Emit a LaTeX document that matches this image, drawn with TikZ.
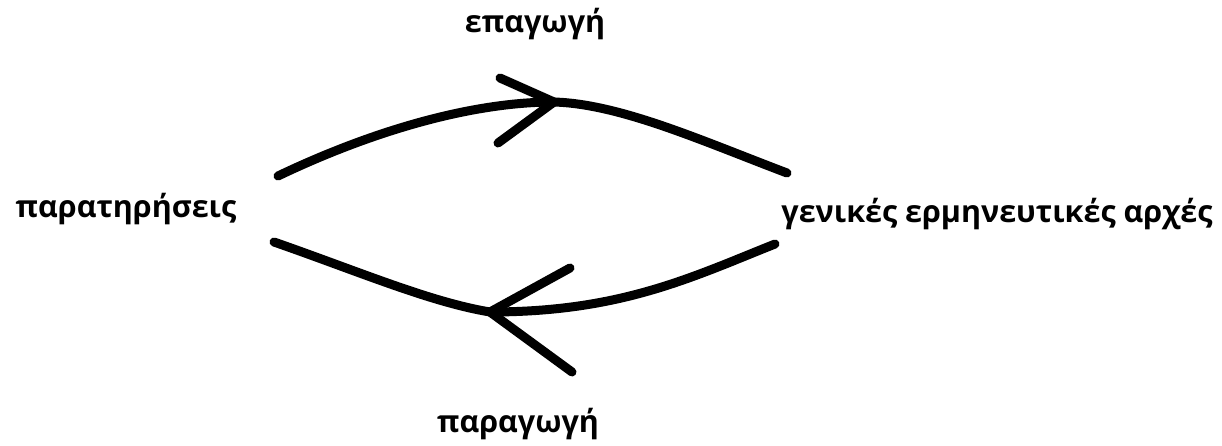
\documentclass[tikz,border=0pt]{standalone}
\usepackage{fontspec}
\setmainfont{Open Sans}
\begin{document}
\begin{tikzpicture}[x=1pt,y=-1pt,
  lbl/.style={font=\bfseries\fontsize{30.5}{34}\selectfont, inner sep=0pt, anchor=base},
  stroke/.style={line width=9pt, line cap=round, line join=round}]
\useasboundingbox (0,0) rectangle (1222,446);

% labels
\node[lbl] (ind) at (535,33) {επαγωγή};
\node[lbl] (obs) at (126,218) {παρατηρήσεις};
\node[lbl] (gen) at (997,223) {γενικές ερμηνευτικές αρχές};
\node[lbl] (ded) at (518,432) {παραγωγή};

% ends and turning points of the two strokes
\coordinate (a1) at (278,176);
\coordinate (t1) at (554,102);
\coordinate (b1) at (787,173);
\coordinate (u1) at (500,78);
\coordinate (l1) at (498,143);

\coordinate (a2) at (775,244);
\coordinate (t2) at (490,312);
\coordinate (b2) at (274,242);
\coordinate (u2) at (570,268);
\coordinate (l2) at (572,372);

% upper stroke: observations to principles
\draw[stroke] (a1) .. controls (370,132) and (470,102) .. (t1)
  .. controls (620,104) and (700,140) .. (b1);
\draw[stroke] (u1) -- (t1) -- (l1);

% lower stroke: principles back to observations
\draw[stroke] (a2) .. controls (690,278) and (620,312) .. (t2)
  .. controls (430,302) and (360,272) .. (b2);
\draw[stroke] (u2) -- (t2) -- (l2);
\end{tikzpicture}
\end{document}
